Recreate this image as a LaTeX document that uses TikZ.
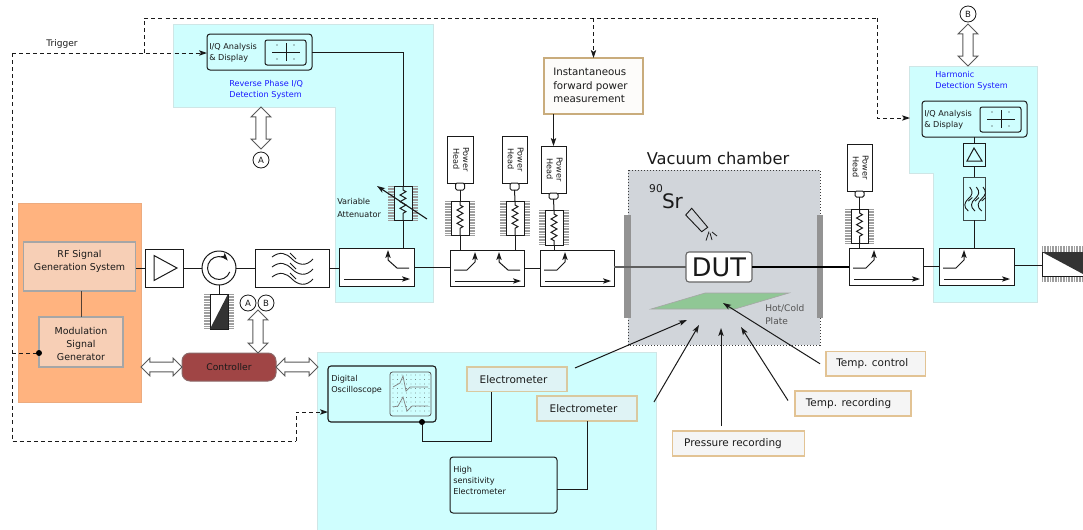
\documentclass[tikz,border=0pt]{standalone}
\usepackage{fontspec}
\setmainfont{DejaVu Sans}
\usetikzlibrary{arrows.meta,shapes.arrows,decorations.pathmorphing,calc}
\definecolor{ink}{HTML}{1A1A1A}
\definecolor{cyanbg}{HTML}{CFFEFE}
\definecolor{cyanbd}{HTML}{CFE6E6}
\definecolor{orangebg}{HTML}{FFB37F}
\definecolor{peach}{HTML}{F7CFB6}
\definecolor{tan}{HTML}{D9C9A0}
\definecolor{tempbd}{HTML}{E2C394}
\definecolor{instbd}{HTML}{C9AC7C}
\definecolor{elfill}{HTML}{DFF3F5}
\definecolor{chamber}{HTML}{D1D5DA}
\definecolor{plate}{HTML}{90C795}
\definecolor{ctrl}{HTML}{A04545}
\definecolor{bluetxt}{HTML}{1A1AFF}
\newcommand{\fp}[1]{\fontsize{#1}{#1}\selectfont}
\newcommand{\bx}[7][]{%
  \pgfmathsetmacro\bxW{(#5-#3)*0.75}%
  \pgfmathsetmacro\bxH{(#6-#4)*0.75}%
  \pgfmathsetmacro\bxX{(#3+#5)/2}%
  \pgfmathsetmacro\bxY{(#4+#6)/2}%
  \node[basebox,minimum width=\bxW pt,minimum height=\bxH pt,#1] (#2) at (\bxX,\bxY) {#7};}
\newcommand{\hatchV}[1]{%
  \draw[hatch] ($(#1.north west)+(-3,0)$) -- ($(#1.south west)+(-3,0)$);
  \draw[hatch] ($(#1.north east)+(3,0)$) -- ($(#1.south east)+(3,0)$);}
\newcommand{\resistor}[1]{%
  \draw[wire,decorate,decoration={zigzag,amplitude=2.2pt,segment length=5pt,pre length=3pt,post length=3pt}] (#1.north) -- (#1.south);}
\newcommand{\through}[1]{\draw[wire,tip] ($(#1.north west)+(5,31)$) -- ($(#1.north west)+(71,31)$);}
\newcommand{\armR}[1]{\draw[wire,tip] ($(#1.north west)+(4,20)$) -- ($(#1.north west)+(17,20)$) -- ($(#1.north west)+(25,12)$) -- ($(#1.north west)+(25,2)$);}
\newcommand{\armL}[1]{\draw[wire,tip] ($(#1.north west)+(70,20)$) -- ($(#1.north west)+(58,20)$) -- ($(#1.north west)+(49,12)$) -- ($(#1.north west)+(49,2)$);}
\newcommand{\iqdisp}[1]{%
  \draw[line width=.75pt,draw=ink,rounded corners=1.65pt] ($(#1.north east)+(-47,6)$) rectangle ($(#1.south east)+(-6,-5)$);
  \draw[line width=.6pt,draw=ink] ($(#1.east)+(-40,0)$) -- ($(#1.east)+(-12,0)$);
  \draw[line width=.75pt,draw=ink] ($(#1.east)+(-26,-9)$) -- ($(#1.east)+(-26,9)$);
  \foreach \dx in {-35,-18} \foreach \dy in {-7,7}
    \fill[ink] ($(#1.east)+(\dx,\dy)$) circle (.45pt);}
\newcommand{\waves}{%
  \foreach \o in {0,10,20}{
    \draw[line width=.68pt,draw=ink] (0,\o) .. controls (8,-6+\o) and (14,-4+\o) .. (20,2+\o) .. controls (26,8+\o) and (34,10+\o) .. (41,2+\o);
    \draw[line width=.68pt,draw=ink] (18,-4+\o) -- (24,2+\o);}}
\newcommand{\phtext}{\rotatebox{-90}{\fp{6.1}\begin{tabular}{@{}c@{}}Power\\[1pt]Head\end{tabular}}}
\tikzset{
  x=.75pt,y=-.75pt,
  every node/.style={text=ink,font=\fp{6.1}},
  basebox/.style={draw=ink,line width=.75pt,fill=white,inner sep=0pt,outer sep=0pt,align=center},
  wire/.style={draw=ink,line width=.75pt},
  tip/.style={-{Stealth[length=6pt,width=4pt,inset=1.4pt]}},
  dashl/.style={draw=ink,line width=.75pt,dash pattern=on 3pt off 2.3pt},
  hatch/.style={draw=gray!75,line width=4.5pt,dash pattern=on .6pt off .6pt},
  sigbox/.style={fill=peach,draw=gray!70,line width=.9pt},
  note/.style={fill=#1,draw=tan,line width=1pt,font=\fp{7.85}},
  tempnote/.style={fill=gray!8,draw=tempbd,line width=.9pt,font=\fp{7.85}},
  dblv/.style={double arrow,shape border rotate=90,draw=gray!70!black,fill=white,line width=.68pt,minimum width=14.25pt,double arrow head extend=3.6pt,double arrow head indent=0pt,inner sep=3.5pt,outer sep=0pt,minimum height=#1},
  dblh/.style={double arrow,draw=gray!70!black,fill=white,line width=.68pt,minimum width=12.75pt,double arrow head extend=3pt,double arrow head indent=0pt,inner sep=3.3pt,outer sep=0pt,minimum height=#1},
  tag/.style={circle,draw=ink,line width=.6pt,fill=white,minimum size=12pt,inner sep=0pt,font=\fp{6.4}},
  bluetext/.style={text=bluetxt,font=\fp{6.1},align=left,inner sep=0pt},
  lbl/.style={anchor=west,align=left,inner sep=0pt,font=\fp{6.1}},
}
\begin{document}
\begin{tikzpicture}
\useasboundingbox (0,0) rectangle (1083,529);
% backgrounds
\fill[orangebg,draw=orangebg!85!gray] (18,203) rectangle (141,402);
\path[fill=cyanbg,draw=cyanbd,line width=.6pt] (173,24) -- (433,24) -- (433,302) -- (335,302) -- (335,107) -- (173,107) -- cycle;
\path[fill=cyanbg,draw=cyanbd,line width=.6pt] (909,66) -- (1037,66) -- (1037,302) -- (933,302) -- (933,173) -- (909,173) -- cycle;
\path[fill=cyanbg,draw=cyanbd,line width=.6pt] (317,352) rectangle (656,530);
\path[fill=chamber,draw=ink!85,line width=.68pt,dash pattern=on .75pt off 1.5pt] (628,170) rectangle (820,345);
\fill[gray!85] (624,215) rectangle (631,318);
\fill[gray!85] (817,215) rectangle (823,318);
\path[fill=plate,draw=gray!70,line width=.45pt] (651,309) -- (705,293) -- (789,293) -- (735,309) -- cycle;

% main boxes
\bx[sigbox]{rf}{23.5}{242}{135.5}{291}{}
\node[font=\fp{7.1},align=center,inner sep=0pt] (rft) at (79.5,261.5) {RF Signal\\[2.6pt]Generation System};
\bx[sigbox]{mod}{39}{317}{123}{367}{}
\node[font=\fp{7.1},align=center,inner sep=0pt] (modt) at (81,343.7) {Modulation\\[2.6pt]Signal\\[2.6pt]Generator};
\bx{amp}{145}{249}{183}{287}{}
\draw[wire] ($(amp.west)+(9,-12.5)$) -- ($(amp.west)+(32,0)$) -- ($(amp.west)+(9,12.5)$) -- cycle;
\node[circle,draw=ink,line width=.75pt,fill=white,minimum size=25.5pt,inner sep=0pt,outer sep=0pt] (circ) at (219,268) {};
\draw[wire,tip] ($(circ)+(-20:8.6pt)$) arc[start angle=-20,end angle=-320,radius=8.6pt];
\bx{filt}{255}{249}{329}{287}{}
\begin{scope}[shift={(272,257)}]\waves\end{scope}
\bx{cp1}{339}{248}{414}{286}{}
\bx{cp2}{450}{250}{524}{286}{}
\bx{cp3}{540}{250}{614}{286}{}
\bx{cp4}{849}{248}{923}{285}{}
\bx{cp5}{939}{248}{1014}{285}{}
\through{cp1}\through{cp2}\through{cp3}\through{cp4}\through{cp5}
\armL{cp1}\armR{cp2}\armL{cp2}\armR{cp3}\armR{cp4}\armR{cp5}

% loads
\bx[draw=none,fill=none]{cl}{210}{294}{228}{329}{}
\hatchV{cl}
\draw[wire,fill=white] (cl.north west) rectangle (cl.south east);
\fill[black!80] (cl.north east) -- (cl.south east) -- (cl.south west) -- cycle;
\draw[hatch] (1042,248.5) -- (1083,248.5);
\draw[hatch] (1042,279) -- (1083,279);
\bx{el}{1042}{252}{1090}{276}{}
\fill[black!80] (el.north west) -- (1083,252) -- (1083,274) -- cycle;

% wires in the chain
\draw[wire] (rf.east |- amp.west) -- (amp.west);
\draw[wire,draw=ink!75!orangebg] (mod.north |- rf.south) -- (mod.north);
\draw[wire] (amp.east) -- (circ.west);
\draw[wire] (circ.east) -- (filt.west);
\draw[wire] (circ.south) -- (cl.north);
\draw[wire] (filt.east) -- (filt.east -| cp1.west);
\draw[wire] (cp1.east) -- (cp1.east -| cp2.west);
\draw[wire] (cp2.east) -- (cp3.west);

% power heads and attenuators
\bx{ph1}{447}{136}{473}{183}{\phtext}
\bx{ph2}{502}{136}{527}{183}{\phtext}
\bx{ph3}{541}{146}{566}{193}{\phtext}
\bx{ph4}{847}{144}{872}{191}{\phtext}
\bx[rounded corners=1.1pt]{sc1}{455.5}{183}{464.5}{190}{}
\bx[rounded corners=1.1pt]{sc2}{510}{183}{519}{190}{}
\bx[rounded corners=1.1pt]{sc3}{549}{193}{558}{199}{}
\bx[rounded corners=1.1pt]{sc4}{855}{191}{864}{197}{}
\bx[draw=none,fill=none]{at1}{451}{201}{469}{235}{}
\bx[draw=none,fill=none]{at2}{506}{201}{524}{235}{}
\bx[draw=none,fill=none]{at3}{545}{210}{563}{245}{}
\bx[draw=none,fill=none]{at4}{851}{209}{868}{243}{}
\bx[draw=none,fill=none]{atv}{394}{186}{412}{220}{}
\hatchV{at1}\hatchV{at2}\hatchV{at3}\hatchV{at4}\hatchV{atv}
\draw[wire,fill=white] (at1.north west) rectangle (at1.south east);
\draw[wire,fill=white] (at2.north west) rectangle (at2.south east);
\draw[wire,fill=white] (at3.north west) rectangle (at3.south east);
\draw[wire,fill=white] (at4.north west) rectangle (at4.south east);
\draw[wire,fill=cyanbg] (atv.north west) rectangle (atv.south east);
\resistor{at1}\resistor{at2}\resistor{at3}\resistor{at4}\resistor{atv}
\draw[wire] (sc1.south) -- (at1.north);
\draw[wire] (sc2.south) -- (at2.north);
\draw[wire] (sc3.south) -- (at3.north);
\draw[wire] (sc4.south) -- (at4.north);
\draw[wire] (at1.south) -- (at1.south |- cp2.north);
\draw[wire] (at2.south) -- (at2.south |- cp2.north);
\draw[wire] (at3.south) -- (at3.south |- cp3.north);
\draw[wire] (at4.south) -- (at4.south |- cp4.north);
\draw[wire,tip,line width=.83pt] (427,219) -- (377,186);
\node[lbl] (varatt) at (337,208) {Variable\\[3pt]Attenuator};

% IQ boxes
\bx[rounded corners=2.25pt,fill=cyanbg]{iq1}{207}{34}{312}{70}{}
\iqdisp{iq1}
\node[lbl] (iq1t) at (209,52.5) {I/Q Analysis\\[2.4pt]\& Display};
\bx[rounded corners=2.25pt,fill=cyanbg]{iq2}{922}{101}{1027}{137}{}
\iqdisp{iq2}
\node[lbl] (iq2t) at (924,119.5) {I/Q Analysis\\[2.4pt]\& Display};
\node[bluetext,anchor=west] (rev) at (229,90) {Reverse Phase I/Q\\[2.4pt]Detection System};
\node[bluetext,anchor=west] (harm) at (935,81) {Harmonic\\[2.4pt]Detection System};
\draw[wire] (iq1.east) -| (atv.north);
\draw[wire] (atv.south) -- (atv.south |- cp1.north);

% harmonic chain
\bx[fill=cyanbg]{amp2}{963}{143}{985}{166}{}
\draw[line width=.75pt,draw=ink] ($(amp2.south)+(-7,-5)$) -- ($(amp2.south)+(0,-18)$) -- ($(amp2.south)+(8,-5)$) -- cycle;
\bx[fill=cyanbg,draw=ink!80!cyanbg]{filt2}{963}{177}{985}{220}{}
\begin{scope}[shift={(983,187)},rotate=-90,x=.44pt,y=-.5pt]\waves\end{scope}
\draw[wire] (iq2.south -| amp2) -- (amp2.north);
\draw[wire] (amp2.south) -- (filt2.north);
\draw[wire] (filt2.south) -- (filt2.south |- cp5.north);

% chamber
\node[font=\fp{12.2}] (vac) at (718,158) {Vacuum chamber};
\node[font=\fp{15},inner sep=0pt] (sr) at (672.5,201) {Sr};
\node[font=\fp{8},inner sep=0pt] (sr90) at (656,189) {90};
\draw[line width=.68pt,draw=ink] (685.7,215) -- (691.7,208.3) -- (707.7,227.3) -- (701.7,231.7) -- cycle;
\draw[line width=.6pt,draw=ink] (709,231.5) -- (706,240.5) (710,233) -- (712,240) (712,232) -- (717,236);
\bx[rounded corners=2.25pt,draw=gray!80!black,line width=.83pt]{dut}{686}{252}{752}{282}{\fp{19.2}DUT}
\node[lbl,text=ink!75,font=\fp{6.8}] (hc) at (765,314.5) {Hot/Cold\\[3pt]Plate};
\draw[draw=ink!70,line width=.83pt] (dut.west -| cp3.east) -- (dut.west);
\draw[draw=black,line width=1.5pt] (dut.east) -- (dut.east -| cp4.west);
\draw[wire] (cp4.east) -- (cp5.west);
\coordinate (cp5o) at ($(cp5.east)+(0,-1)$);
\draw[wire] (cp5o) -- (cp5o -| el.west);

% top-right
\node[tag] (tb) at (968,14) {B};
\node[dblv=31.5pt] (db) at (968,45) {};
\node[tag] (ta) at (261,160) {A};
\node[dblv=31.5pt] (da) at (261,128) {};

% instantaneous
\bx[fill=white!95!tan,draw=instbd,line width=1.1pt]{inst}{544}{58}{643}{114}{}
\node[lbl,font=\fp{7.7},align=left] (instt) at (553,85.5) {Instantaneous\\[2.4pt]forward power\\[2.4pt]measurement};
\draw[wire,tip] (ph3.north |- inst.south) -- (ph3.north);

% lower: controller
\bx[rounded corners=6pt,fill=ctrl,draw=gray!60!ctrl,line width=.75pt]{ctl}{182}{353}{276}{381}{\fp{6.9}Controller}
\node[dblh=30.75pt] (dl) at (161.5,367) {};
\node[dblh=31.5pt] (dr) at (297,367) {};
\node[dblv=32.25pt] (dv) at (258,331.5) {};
\node[tag] (ca) at (248,303) {A};
\node[tag] (cb) at (266,303) {B};

% oscilloscope
\bx[rounded corners=2.25pt,fill=cyanbg,line width=.83pt]{osc}{328}{366}{436}{422}{}
\node[lbl] (osct) at (331,384.5) {Digital\\[2.4pt]Oscilloscope};
\bx[rounded corners=1.9pt,fill=cyanbg,draw=gray!70!black,line width=.6pt]{scr}{390}{372}{431}{416}{}
\foreach \gx in {393,397.5,...,429} \foreach \gy in {375,379.5,...,414}
  \fill[ink!80] (\gx,\gy) circle (.3pt);
\draw[gray,line width=.53pt] (393,387) -- (400,383) -- (403,376) -- (406,391) -- (410,387) -- (428,387);
\draw[gray,line width=.53pt] (393,407) -- (398,406) -- (403,397) -- (407,411) -- (412,406) -- (428,406);
\bx[note=elfill]{e1}{467}{367}{567}{391.5}{\hspace*{-5.2pt}Electrometer}
\bx[note=elfill]{e2}{537}{396}{637}{421}{\hspace*{-5.2pt}Electrometer}
\bx[rounded corners=2.25pt,fill=cyanbg]{hs}{450}{457}{557}{513}{}
\node[lbl] (hst) at (453,480.5) {High\\[2.4pt]sensitivity\\[2.4pt]Electrometer};
\coordinate (oscp) at (422,422);
\coordinate (oscq) at (422,441);
\coordinate (hsr) at (557,489);
\draw[wire] (oscp) -- (oscq) -| (491,0 |- e1.south);
\draw[wire] (hsr) -| (587,0 |- e2.south);
\fill[black] (oscp) circle (2.25pt);

% temp boxes
\bx[tempnote]{tc}{826}{351.5}{925.5}{376}{\hspace*{-5.2pt}Temp. control}
\bx[tempnote]{tr}{795}{391}{911}{416}{\hspace*{-6.75pt}Temp. recording}
\bx[tempnote]{pr}{672.5}{431}{804.5}{456}{\hspace*{-8.25pt}Pressure recording}
\coordinate (p1) at (687,320);
\coordinate (p2) at (699,325);
\coordinate (p3) at (721,328);
\coordinate (p4) at (741,327);
\coordinate (p5) at (723,303);
\draw[wire,tip] ($(e1.north east)+(8,1)$) -- (p1);
\draw[wire,tip] ($(e2.north east)+(17,6)$) -- (p2);
\draw[wire,tip] ($(p3 |- pr.north)+(0,-5)$) -- (p3);
\draw[wire,tip] ($(tr.west)+(-7,-3)$) -- (p4);
\draw[wire,tip] ($(tc.west)+(-6,0)$) -- (p5);

% dashed trigger
\coordinate (dtl) at (12,53);
\coordinate (dbl) at (12,441);
\coordinate (dbr) at (296,441);
\coordinate (oscin) at (328,412);
\coordinate (dj) at (144,53);
\coordinate (dtop) at (144,18);
\coordinate (dtr) at (877,18);
\coordinate (hin) at (910,118);
\coordinate (modj) at (39,353);
\draw[dashl,tip] (dtl) -- (dtl -| iq1.west);
\draw[dashl] (dtl) -- (dbl) -- (dbr);
\draw[dashl,tip] (dbr) |- (oscin);
\draw[dashl] (dj) -- (dtop) -- (dtr);
\draw[dashl,tip] (dtr) |- (hin);
\draw[dashl,tip] (inst.north |- dtop) -- (inst.north);
\draw[dashl] (modj -| dbl) -- (modj);
\fill[black] (modj) circle (2.25pt);
\node[font=\fp{6.8}] (trg) at (62,44) {Trigger};
\end{tikzpicture}
\end{document}
